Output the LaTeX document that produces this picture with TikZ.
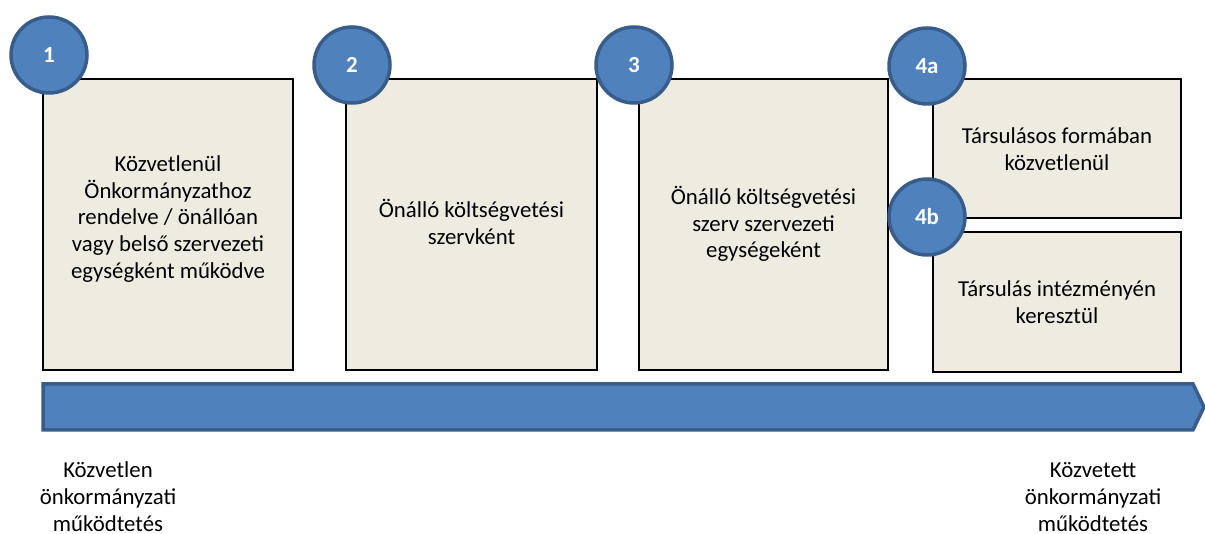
\documentclass[tikz,border=0pt]{standalone}
\usepackage{fontspec}
\setmainfont{Carlito}
\definecolor{boxfill}{HTML}{EEECE1}
\definecolor{circfill}{HTML}{4F81BD}
\definecolor{circline}{HTML}{385D8A}
\tikzset{
  box/.style={draw=black, line width=1.2pt, fill=boxfill, rectangle, inner sep=0pt},
  boxtext/.style={align=center, font=\fontsize{22.8}{26.6}\selectfont, inner sep=0pt},
  num/.style={circle, draw=circline, line width=3.5pt, fill=circfill, minimum size=76pt, inner sep=0pt},
  numtext/.style={text=white, inner sep=0pt, anchor=base, font=\fontsize{23}{26}\selectfont\bfseries},
  bar/.style={draw=circline, line width=3.5pt, fill=circfill, line join=miter},
  label/.style={align=center, font=\fontsize{22.8}{27}\selectfont, inner sep=0pt}
}
\begin{document}
\begin{tikzpicture}[x=1pt,y=-1pt]
\useasboundingbox (0,0) rectangle (1205,534);
% boxes
\node[box, minimum width=250pt, minimum height=291pt] (b1) at (168,224.5) {};
\node[box, minimum width=251pt, minimum height=291pt] (b2) at (471.5,224.5) {};
\node[box, minimum width=249pt, minimum height=291pt] (b3) at (763.5,224.5) {};
\node[box, minimum width=248pt, minimum height=139pt] (b4a) at (1057,148.5) {};
\node[box, minimum width=248pt, minimum height=140pt] (b4b) at (1057,302) {};
% texts
\node[boxtext] (t1) at (168,219) {Közvetlenül\\Önkormányzathoz\\rendelve / önállóan\\vagy belső szervezeti\\egységként működve};
\node[boxtext] (t2) at (471.5,222) {Önálló költségvetési\\szervként};
\node[boxtext] (t3) at (763.5,224) {Önálló költségvetési\\szerv szervezeti\\egységeként};
\node[boxtext] (t4a) at (1057,149) {Társulásos formában\\közvetlenül};
\node[boxtext] (t4b) at (1057,302) {Társulás intézményén\\keresztül};
% circles
\node[num] (c1) at (49,55) {};
\node[num] (c2) at (352,65) {};
\node[num] (c3) at (634,65) {};
\node[num] (c4a) at (927,66) {};
\node[num] (c4b) at (927,217) {};
\node[numtext] (n1) at ([yshift=-7.5pt]c1.center) {1};
\node[numtext] (n2) at ([yshift=-7.5pt]c2.center) {2};
\node[numtext] (n3) at ([yshift=-7.5pt]c3.center) {3};
\node[numtext] (n4a) at ([yshift=-7.5pt]c4a.center) {4a};
\node[numtext] (n4b) at ([yshift=-7.5pt]c4b.center) {4b};
% bar
\coordinate (a1) at (43,384);
\coordinate (a2) at (1193,384);
\coordinate (a3) at (1204,407);
\coordinate (a4) at (1193,430);
\coordinate (a5) at (43,430);
\draw[bar] (a1) -- (a2) -- (a3) -- (a4) -- (a5) -- cycle;
% bottom labels
\node[label] (l1) at (108,497) {Közvetlen\\önkormányzati\\működtetés};
\node[label] (l2) at (1093,497) {Közvetett\\önkormányzati\\működtetés};
\end{tikzpicture}
\end{document}
